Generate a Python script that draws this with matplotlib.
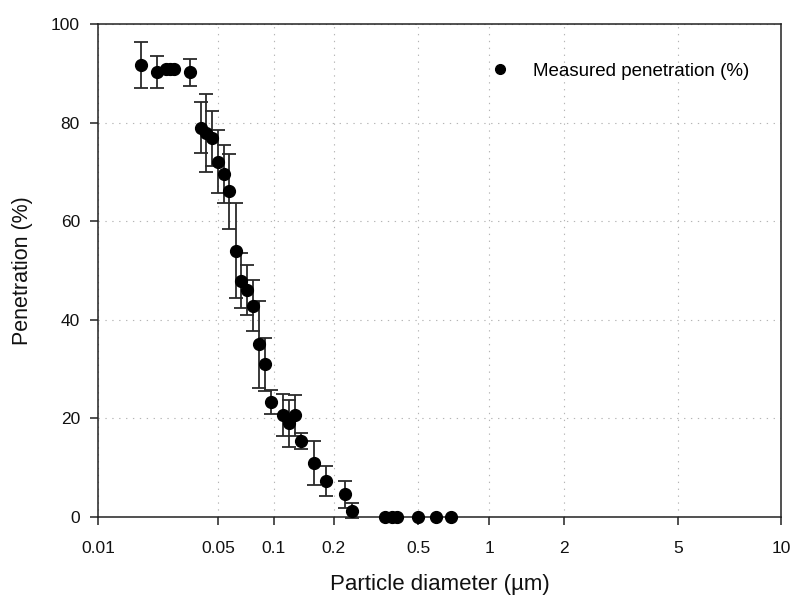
import numpy as np
import matplotlib
matplotlib.use("Agg")
import matplotlib.pyplot as plt
from matplotlib.lines import Line2D

plt.rcParams['font.family'] = ['Liberation Sans', 'DejaVu Sans']

# measured points (diameter in um, penetration in %, +/- error)
diameter = [0.0179, 0.0221, 0.0250, 0.0263, 0.0278, 0.0345, 0.0396, 0.0424,
            0.0461, 0.0500, 0.0537, 0.0576, 0.0621, 0.0663, 0.0717, 0.0773,
            0.0830, 0.0894, 0.0960, 0.1107, 0.1186, 0.1274, 0.1366, 0.1581,
            0.1823, 0.2254, 0.2424, 0.348, 0.374, 0.399, 0.497, 0.593, 0.687]
penetration = [91.7, 90.3, 90.8, 90.9, 90.9, 90.2, 79.0, 77.9,
               76.8, 72.1, 69.5, 66.1, 54.0, 47.9, 46.0, 42.9,
               35.0, 31.0, 23.3, 20.7, 19.0, 20.6, 15.4, 11.0,
               7.3, 4.6, 1.3, 0.0, 0.0, 0.0, 0.0, 0.0, 0.0]
error = [4.7, 3.2, 0.0, 0.0, 0.0, 2.7, 5.2, 7.9,
         5.6, 6.4, 5.9, 7.6, 9.6, 5.6, 5.1, 5.2,
         8.8, 5.4, 2.5, 4.2, 4.8, 4.1, 1.7, 4.5,
         3.1, 2.8, 1.6, 0.0, 0.0, 0.0, 0.0, 0.0, 0.0]

xticks = [0.01, 0.05, 0.1, 0.2, 0.5, 1, 2, 5, 10]
xticklabels = ['0.01', '0.05', '0.1', '0.2', '0.5', '1', '2', '5', '10']
yticks = [0, 20, 40, 60, 80, 100]

# the original x axis is a stretched log axis; breakpoints (log10 value -> axis fraction)
brk_log = np.log10(xticks)
brk_frac = np.array([0.0, 0.1758, 0.2575, 0.3454, 0.4689, 0.5725, 0.6824, 0.8499, 1.0])
# extend linearly so values outside 0.01..10 still map
lo_slope = (brk_frac[1] - brk_frac[0]) / (brk_log[1] - brk_log[0])
hi_slope = (brk_frac[-1] - brk_frac[-2]) / (brk_log[-1] - brk_log[-2])
ext_log = np.concatenate([[brk_log[0] - 40], brk_log, [brk_log[-1] + 40]])
ext_frac = np.concatenate([[brk_frac[0] - 40 * lo_slope], brk_frac, [brk_frac[-1] + 40 * hi_slope]])


def forward(x):
    x = np.clip(np.asarray(x, dtype=float), 1e-40, None)
    return np.interp(np.log10(x), ext_log, ext_frac)


def inverse(f):
    return 10 ** np.interp(np.asarray(f, dtype=float), ext_frac, ext_log)


fig = plt.figure(figsize=(7.93, 5.97), dpi=100)
ax = fig.add_axes([98 / 793, 80 / 597, 683 / 793, 493 / 597])

ax.set_xscale('function', functions=(forward, inverse))
ax.set_xlim(0.01, 10)
ax.set_ylim(0, 100)

d = np.array(diameter)
p = np.array(penetration)
e = np.array(error)
has_err = e > 0
ax.errorbar(d[has_err], p[has_err], yerr=e[has_err], fmt='none', ecolor='#2a2a2a',
            elinewidth=1.3, capsize=5, capthick=1.3, zorder=3, clip_on=False)
ax.plot(d, p, 'o', color='black', ms=8.5, zorder=4, clip_on=False)

ax.set_xticks(xticks)
ax.set_xticklabels(xticklabels)
ax.xaxis.set_minor_locator(matplotlib.ticker.NullLocator())
ax.set_yticks(yticks)

ax.grid(True, color='#b5b5b5', linestyle=(0, (1.2, 5)), linewidth=0.8)
ax.set_axisbelow(True)

for s in ax.spines.values():
    s.set_linewidth(1.1)
    s.set_color('#222222')
ax.tick_params(axis='both', direction='out', length=6, width=1.1, color='#222222',
               labelsize=12.5, labelcolor='#111111')
ax.tick_params(axis='x', pad=11)
ax.tick_params(axis='y', pad=7)

ax.set_xlabel('Particle diameter (\u00b5m)', fontsize=16, labelpad=13, color='#111111')
ax.set_ylabel('Penetration (%)', fontsize=15.5, labelpad=13, color='#111111')

handle = Line2D([], [], marker='o', color='black', linestyle='none', ms=7)
ax.legend([handle], ['Measured penetration (%)'], loc='center left',
          bbox_to_anchor=(0.5754, 0.9047), frameon=False, fontsize=13.5,
          handlelength=1.0, handletextpad=1.25, borderpad=0, borderaxespad=0)

fig.savefig('out.png', dpi=100)
